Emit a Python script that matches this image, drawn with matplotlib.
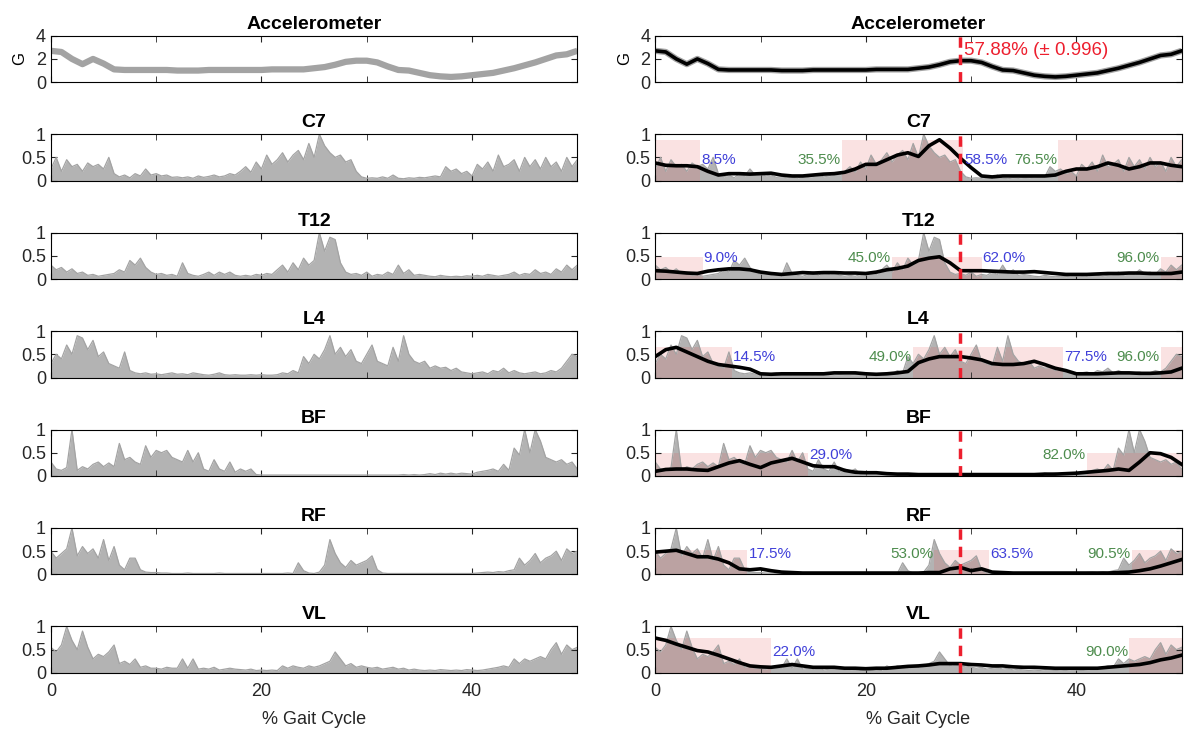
import numpy as np
import matplotlib
matplotlib.use("Agg")
import matplotlib.pyplot as plt

plt.rcParams['font.family'] = ['Liberation Sans', 'DejaVu Sans']

# ---- data ----
names = ["C7", "T12", "L4", "BF", "RF", "VL"]

# accelerometer mean (G), one value per 1 % of the x axis (0..50)
accel = [2.7, 2.6, 2.0, 1.55, 2.0, 1.6, 1.1, 1.05, 1.05, 1.05, 1.05, 1.05, 1.0, 1.0, 1.0,
         1.05, 1.05, 1.05, 1.05, 1.05, 1.05, 1.1, 1.1, 1.1, 1.1, 1.2, 1.3, 1.5, 1.75, 1.85,
         1.85, 1.7, 1.35, 1.05, 1.0, 0.8, 0.6, 0.5, 0.45, 0.5, 0.6, 0.7, 0.8, 1.0, 1.2,
         1.45, 1.7, 2.0, 2.3, 2.4, 2.7]

# raw EMG spikes, one value per 0.5 % (0..50)
raw = {
    "C7": [0.25, 0.5, 0.2, 0.45, 0.3, 0.35, 0.2, 0.38, 0.3, 0.35, 0.25, 0.5, 0.15,
           0.08, 0.12, 0.06, 0.15, 0.1, 0.25, 0.12, 0.15,
           0.1, 0.12, 0.07, 0.08, 0.06, 0.08, 0.05, 0.1, 0.07, 0.09, 0.12, 0.08, 0.1, 0.15, 0.12, 0.2,
           0.3, 0.18, 0.4, 0.25, 0.55, 0.35, 0.45, 0.6, 0.4, 0.55, 0.65, 0.45, 0.8, 0.5,
           1.0, 0.75, 0.6, 0.5, 0.55, 0.4, 0.45, 0.2,
           0.08, 0.05, 0.06, 0.05, 0.08, 0.05, 0.12, 0.05, 0.04, 0.06, 0.05, 0.07, 0.06, 0.08, 0.1, 0.08, 0.3, 0.2,
           0.25, 0.15, 0.2, 0.1, 0.35, 0.25, 0.4, 0.2, 0.55, 0.3, 0.35, 0.45, 0.2, 0.5, 0.3, 0.45,
           0.25, 0.5, 0.3, 0.4, 0.2, 0.5, 0.3, 0.45],
    "T12": [0.3, 0.2, 0.25, 0.15, 0.22, 0.12, 0.15, 0.08, 0.1, 0.06, 0.08, 0.1, 0.12,
            0.2, 0.15, 0.4, 0.3, 0.45, 0.25, 0.15, 0.1,
            0.12, 0.08, 0.1, 0.06, 0.35, 0.12, 0.08, 0.06, 0.1, 0.15, 0.08, 0.15, 0.1, 0.15, 0.08, 0.06,
            0.08, 0.06, 0.1, 0.08, 0.12, 0.1, 0.2, 0.3, 0.15, 0.35, 0.2, 0.45, 0.3, 0.4,
            1.0, 0.6, 0.9, 0.85, 0.35, 0.15, 0.1, 0.12,
            0.08, 0.15, 0.06, 0.1, 0.08, 0.15, 0.1, 0.3, 0.12, 0.2, 0.08, 0.1, 0.08, 0.06, 0.05, 0.08, 0.06, 0.05,
            0.06, 0.05, 0.07, 0.06, 0.08, 0.06, 0.1, 0.08, 0.06, 0.08, 0.1, 0.15, 0.08, 0.12, 0.1, 0.2,
            0.12, 0.15, 0.1, 0.22, 0.15, 0.3, 0.2, 0.3],
    "L4": [0.3, 0.5, 0.4, 0.7, 0.5, 0.9, 0.85, 0.6, 0.8, 0.45, 0.55, 0.3, 0.25,
           0.2, 0.55, 0.15, 0.1, 0.08, 0.1, 0.07, 0.08,
           0.06, 0.08, 0.1, 0.07, 0.08, 0.06, 0.1, 0.08, 0.06, 0.05, 0.07, 0.1, 0.06, 0.05, 0.06, 0.05,
           0.05, 0.06, 0.05, 0.06, 0.05, 0.05, 0.06, 0.1, 0.08, 0.15, 0.1, 0.45, 0.3, 0.5,
           0.4, 0.6, 0.9, 0.5, 0.65, 0.45, 0.6, 0.35,
           0.3, 0.5, 0.7, 0.35, 0.3, 0.25, 0.65, 0.35, 0.9, 0.5, 0.35, 0.3, 0.35, 0.2, 0.25, 0.2, 0.22, 0.15,
           0.2, 0.12, 0.1, 0.08, 0.1, 0.12, 0.08, 0.15, 0.12, 0.2, 0.1, 0.15, 0.1, 0.08, 0.1, 0.12,
           0.08, 0.1, 0.15, 0.12, 0.2, 0.35, 0.5, 0.45],
    "BF": [0.3, 0.15, 0.12, 0.18, 1.0, 0.12, 0.2, 0.15, 0.25, 0.3, 0.2, 0.28, 0.2,
           0.7, 0.35, 0.4, 0.3, 0.25, 0.65, 0.4, 0.55,
           0.5, 0.55, 0.4, 0.35, 0.3, 0.55, 0.3, 0.5, 0.15, 0.1, 0.35, 0.15, 0.1, 0.3, 0.08, 0.15,
           0.1, 0.15, 0.03, 0.02, 0.02, 0.02, 0.02, 0.02, 0.02, 0.02, 0.02, 0.02, 0.02, 0.02,
           0.02, 0.02, 0.02, 0.02, 0.02, 0.02, 0.02, 0.02,
           0.02, 0.02, 0.02, 0.02, 0.02, 0.02, 0.02, 0.02, 0.03, 0.02, 0.03, 0.02, 0.03, 0.05, 0.03, 0.06, 0.04, 0.06,
           0.04, 0.06, 0.05, 0.04, 0.08, 0.1, 0.12, 0.15, 0.1, 0.25, 0.12, 0.6, 0.45, 1.0, 0.5, 1.0,
           0.75, 0.4, 0.35, 0.3, 0.35, 0.25, 0.3, 0.15],
    "RF": [0.5, 0.35, 0.45, 0.55, 1.0, 0.4, 0.6, 0.45, 0.55, 0.35, 0.75, 0.3, 0.6,
           0.2, 0.1, 0.35, 0.35, 0.1, 0.05, 0.04, 0.04,
           0.03, 0.03, 0.02, 0.02, 0.02, 0.03, 0.02, 0.02, 0.02, 0.02, 0.02, 0.03, 0.02, 0.02, 0.02, 0.02,
           0.02, 0.02, 0.02, 0.02, 0.02, 0.02, 0.02, 0.02, 0.03, 0.02, 0.25, 0.08, 0.03, 0.02,
           0.05, 0.2, 0.75, 0.45, 0.25, 0.15, 0.3, 0.2,
           0.25, 0.3, 0.4, 0.1, 0.03, 0.02, 0.02, 0.02, 0.02, 0.02, 0.02, 0.02, 0.02, 0.02, 0.02, 0.02, 0.02, 0.02,
           0.02, 0.02, 0.02, 0.02, 0.03, 0.04, 0.05, 0.04, 0.06, 0.05, 0.08, 0.1, 0.35, 0.2, 0.3, 0.45,
           0.25, 0.35, 0.4, 0.5, 0.3, 0.55, 0.45, 0.5],
    "VL": [0.55, 0.45, 0.6, 1.0, 0.7, 0.5, 0.9, 0.55, 0.3, 0.4, 0.35, 0.45, 0.6,
           0.2, 0.25, 0.18, 0.3, 0.12, 0.15, 0.1, 0.1,
           0.08, 0.12, 0.1, 0.1, 0.3, 0.1, 0.3, 0.08, 0.1, 0.08, 0.12, 0.06, 0.08, 0.1, 0.08, 0.07,
           0.06, 0.08, 0.05, 0.06, 0.05, 0.06, 0.05, 0.15, 0.1, 0.15, 0.12, 0.1, 0.15, 0.12,
           0.15, 0.2, 0.25, 0.45, 0.3, 0.15, 0.2, 0.12,
           0.15, 0.12, 0.1, 0.12, 0.08, 0.1, 0.12, 0.08, 0.1, 0.06, 0.08, 0.06, 0.05, 0.06, 0.05, 0.07, 0.06, 0.05,
           0.06, 0.05, 0.07, 0.06, 0.05, 0.06, 0.08, 0.1, 0.12, 0.15, 0.12, 0.3, 0.2, 0.3, 0.25, 0.3,
           0.35, 0.3, 0.5, 0.65, 0.4, 0.6, 0.5, 0.55],
}

# mean envelopes, one value per 1 % (0..50)
mean = {
    "C7": [0.38, 0.33, 0.32, 0.32, 0.3, 0.2, 0.12, 0.15, 0.15, 0.14, 0.15, 0.16, 0.12, 0.1, 0.1,
           0.12, 0.14, 0.15, 0.18, 0.25, 0.35, 0.35, 0.45, 0.55, 0.6, 0.52, 0.75, 0.88, 0.7, 0.48,
           0.28, 0.1, 0.08, 0.1, 0.1, 0.1, 0.1, 0.1, 0.12, 0.2, 0.25, 0.25, 0.3, 0.38, 0.33,
           0.25, 0.3, 0.38, 0.38, 0.33, 0.3],
    "T12": [0.18, 0.17, 0.15, 0.13, 0.12, 0.17, 0.2, 0.22, 0.22, 0.2, 0.15, 0.12, 0.1, 0.12, 0.14,
            0.13, 0.14, 0.14, 0.13, 0.13, 0.12, 0.15, 0.2, 0.23, 0.28, 0.4, 0.45, 0.48, 0.35, 0.18,
            0.18, 0.18, 0.17, 0.16, 0.15, 0.15, 0.16, 0.14, 0.12, 0.1, 0.1, 0.1, 0.11, 0.12, 0.12,
            0.13, 0.13, 0.12, 0.12, 0.12, 0.15],
    "L4": [0.45, 0.6, 0.65, 0.55, 0.45, 0.35, 0.28, 0.25, 0.22, 0.18, 0.08, 0.07, 0.08, 0.08, 0.08,
           0.08, 0.08, 0.1, 0.1, 0.1, 0.08, 0.07, 0.08, 0.1, 0.13, 0.32, 0.4, 0.45, 0.45, 0.45,
           0.42, 0.38, 0.3, 0.28, 0.28, 0.3, 0.35, 0.28, 0.2, 0.15, 0.08, 0.08, 0.08, 0.09, 0.1,
           0.1, 0.09, 0.09, 0.1, 0.12, 0.2],
    "BF": [0.1, 0.14, 0.15, 0.15, 0.13, 0.12, 0.2, 0.28, 0.33, 0.25, 0.18, 0.28, 0.33, 0.38, 0.3,
           0.22, 0.2, 0.2, 0.12, 0.08, 0.07, 0.07, 0.05, 0.04, 0.04, 0.03, 0.03, 0.03, 0.03, 0.03,
           0.03, 0.03, 0.03, 0.03, 0.03, 0.03, 0.03, 0.04, 0.04, 0.05, 0.06, 0.08, 0.1, 0.12, 0.15,
           0.12, 0.3, 0.5, 0.48, 0.4, 0.25],
    "RF": [0.48, 0.5, 0.52, 0.45, 0.38, 0.38, 0.33, 0.25, 0.12, 0.1, 0.12, 0.08, 0.05, 0.04, 0.03,
           0.03, 0.03, 0.03, 0.03, 0.03, 0.03, 0.03, 0.03, 0.03, 0.03, 0.03, 0.04, 0.04, 0.12, 0.15,
           0.08, 0.12, 0.05, 0.04, 0.03, 0.03, 0.03, 0.03, 0.03, 0.03, 0.03, 0.03, 0.03, 0.03, 0.04,
           0.05, 0.08, 0.12, 0.18, 0.25, 0.32],
    "VL": [0.75, 0.7, 0.62, 0.55, 0.48, 0.45, 0.38, 0.3, 0.22, 0.15, 0.13, 0.12, 0.15, 0.18, 0.15,
           0.12, 0.12, 0.12, 0.1, 0.1, 0.09, 0.1, 0.1, 0.12, 0.14, 0.15, 0.17, 0.2, 0.2, 0.2,
           0.18, 0.17, 0.15, 0.15, 0.13, 0.12, 0.12, 0.11, 0.1, 0.1, 0.1, 0.1, 0.1, 0.12, 0.14,
           0.16, 0.18, 0.22, 0.28, 0.32, 0.38],
}

# active periods in % of gait cycle (start, end)
active = {
    "C7": [(0, 8.5), (35.5, 58.5), (76.5, 100)],
    "T12": [(0, 9.0), (45.0, 62.0), (96.0, 100)],
    "L4": [(0, 14.5), (49.0, 77.5), (96.0, 100)],
    "BF": [(0, 29.0), (82.0, 100)],
    "RF": [(0, 17.5), (53.0, 63.5), (90.5, 100)],
    "VL": [(0, 22.0), (90.0, 100)],
}

event_pct = 57.88
event_sd = 0.996

x_raw = np.arange(101) * 0.5
x_mean = np.arange(51)

grey = (0.64, 0.64, 0.64)
fillc = (0.7, 0.7, 0.7)
blue = (0.25, 0.25, 0.85)
green = (0.3, 0.55, 0.3)
shade = (0.9, 0.3, 0.3)
red = (0.93, 0.12, 0.18)
txt = '#262626'


def style(ax, ymax, yt, last):
    ax.set_xlim(0, 50)
    ax.set_ylim(0, ymax)
    ax.set_yticks(yt)
    ax.set_yticklabels([("%g" % v) for v in yt])
    ax.set_xticks([0, 20, 40])
    ax.set_xticks([10, 30, 50], minor=True)
    ax.tick_params(which='both', direction='in', top=True, right=True,
                   length=4, labelsize=13, colors=txt)
    ax.tick_params(axis='x', which='major', pad=7)
    if last:
        ax.set_xlabel("% Gait Cycle", fontsize=13, color=txt, labelpad=8)
    else:
        ax.set_xticklabels([])
    for s in ax.spines.values():
        s.set_linewidth(0.8)


fig, axes = plt.subplots(7, 2, figsize=(11.84, 7.29), dpi=100)
fig.subplots_adjust(left=0.043, right=0.998, top=0.951, bottom=0.077,
                    wspace=0.148, hspace=1.12)

# accelerometer row
for col in range(2):
    ax = axes[0, col]
    ax.plot(x_mean, accel, color=grey, lw=4.5, solid_capstyle='butt')
    if col == 1:
        ax.plot(x_mean, accel, color='k', lw=2.6)
        ax.axvline(event_pct / 2, color=red, lw=2.5, ls=(0, (3, 2)))
        ax.text(event_pct / 2 + 0.4, 2.75, "%.2f%% (\u00b1 %.3f)" % (event_pct, event_sd),
                color=red, fontsize=13.5, va='center')
    ax.set_ylabel("G", fontsize=12, labelpad=6)
    ax.set_title("Accelerometer", fontsize=14, fontweight='bold', pad=5)
    style(ax, 4, [0, 2, 4], False)

for r, nm in enumerate(names, start=1):
    last = r == len(names)
    for col in range(2):
        ax = axes[r, col]
        ax.fill_between(x_raw, 0, raw[nm], color=fillc, lw=0)
        ax.plot(x_raw, raw[nm], color=grey, lw=0.9)
        if col == 1:
            top = max(mean[nm])
            for a, b in active[nm]:
                ax.fill_between([a / 2, b / 2], 0, top, color=shade, alpha=0.16, lw=0)
                if b < 100:
                    ax.text(b / 2 + 0.1, 0.45, "%.1f%%" % b, color=blue,
                            fontsize=11, va='center', ha='left')
                if a > 0:
                    ax.text(a / 2 - 0.1, 0.45, "%.1f%%" % a, color=green,
                            fontsize=11, va='center', ha='right')
            ax.plot(x_mean, mean[nm], color='k', lw=2.6)
            ax.axvline(event_pct / 2, color=red, lw=2.5, ls=(0, (3, 2)))
        ax.set_title(nm, fontsize=14, fontweight='bold', pad=5)
        style(ax, 1, [0, 0.5, 1], last)

fig.savefig("out.png", dpi=100)
